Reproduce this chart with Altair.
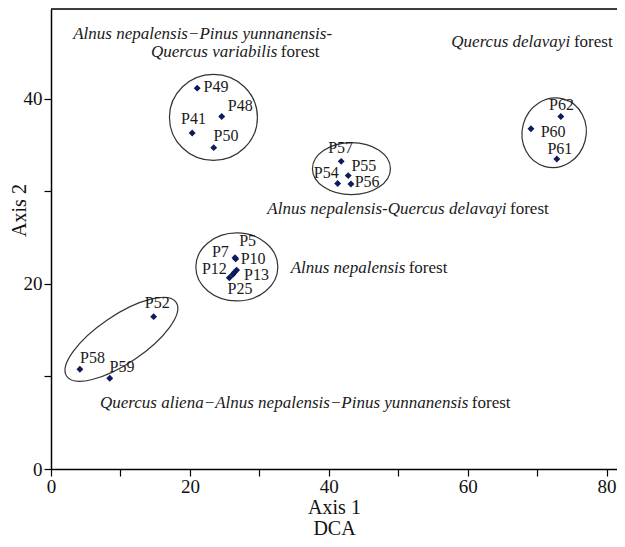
import altair as alt
import pandas as pd

# ---------------- data ----------------
plots = ["P49", "P48", "P41", "P50",
         "P57", "P55", "P54", "P56",
         "P62", "P60", "P61",
         "P7", "P5", "P10", "P13", "P12", "P25",
         "P52", "P58", "P59"]
axis1 = [21.05, 24.58, 20.33, 23.43,
         41.79, 42.80, 41.28, 43.19,
         73.41, 69.11, 72.84,
         26.50, 26.60, 26.73, 26.40, 26.18, 25.68,
         14.78, 4.16, 8.46]
axis2 = [41.15, 38.09, 36.30, 34.72,
         33.24, 31.70, 30.84, 30.80,
         38.09, 36.77, 33.50,
         22.83, 22.70, 21.49, 21.24, 21.02, 20.67,
         16.46, 10.78, 9.81]
# label anchor positions (axis units)
label_x = [23.77, 27.26, 20.52, 25.21,
           41.71, 45.05, 39.64, 45.52,
           73.50, 72.31, 73.27,
           24.39, 28.31, 29.10, 29.60, 23.53, 27.22,
           15.31, 5.98, 10.23]
label_y = [41.26, 39.22, 37.82, 35.94,
           34.68, 32.78, 31.99, 30.98,
           39.35, 36.41, 34.58,
           23.47, 24.60, 22.68, 20.98, 21.56, 19.45,
           17.90, 12.04, 11.07]

# community ellipses: centre (axis units), half-width px, aspect ratio, rotation
ell_cx = [23.39, 43.26, 72.45, 26.76, 10.14]
ell_cy = [37.99, 32.45, 36.33, 21.83, 14.01]
ell_rx = [44, 39, 32, 41, 66]
ell_ratio = [0.977, 0.667, 1.094, 0.829, 0.364]
ell_angle = [0, 0, 15, 0, 326]

# community names: italic part, regular part
italic_left_txt = ["Alnus nepalensis\u2212Pinus yunnanensis-"]
italic_left_x = [3.2]
italic_left_y = [47.0]

italic_right_txt = ["Quercus variabilis", "Quercus delavayi",
                    "Alnus nepalensis-Quercus delavayi", "Alnus nepalensis",
                    "Quercus aliena\u2212Alnus nepalensis\u2212Pinus yunnanensis"]
italic_right_x = [32.6, 74.75, 65.6, 51.03, 60.1]
group_y = [45.05, 46.15, 28.14, 21.75, 7.12]
regular_txt = ["forest", "forest", "forest", "forest", "forest"]
regular_x = [33.1, 75.3, 66.1, 51.5, 60.6]

x_ticks = [0, 10, 20, 30, 40, 50, 60, 70, 80]
y_ticks = [0, 10, 20, 30, 40]

# ---------------- chart ----------------
W, H = 566, 460
FONT = "Liberation Serif"
XMAX, YMAX = 81.5, 49.7

pts = pd.DataFrame({"plot": plots, "a1": axis1, "a2": axis2,
                    "lx": label_x, "ly": label_y})

k = 0.5523


def ellipse_path(r):
    return (f"M1,0C1,{k*r:.4f} {k:.4f},{r:.4f} 0,{r:.4f}"
            f"C{-k:.4f},{r:.4f} -1,{k*r:.4f} -1,0"
            f"C-1,{-k*r:.4f} {-k:.4f},{-r:.4f} 0,{-r:.4f}"
            f"C{k:.4f},{-r:.4f} 1,{-k*r:.4f} 1,0Z")


ell = pd.DataFrame({"cx": ell_cx, "cy": ell_cy,
                    "size": [(2 * r) ** 2 for r in ell_rx],
                    "path": [ellipse_path(r) for r in ell_ratio],
                    "ang": ell_angle})

xs = alt.Scale(domain=[0, XMAX], nice=False, zero=False)
ys = alt.Scale(domain=[0, YMAX], nice=False, zero=False)

x_axis = alt.Axis(values=x_ticks, labelExpr="datum.value % 20 == 0 ? datum.label : ''",
                  grid=False, tickSize=7, tickColor="black", domainColor="black",
                  domainWidth=1.5, tickWidth=1.2,
                  labelFont=FONT, labelFontSize=19, labelColor="#111", labelPadding=1,
                  labelFlush=False, labelOverlap=False,
                  title=["Axis 1", "DCA"], titleFont=FONT, titleFontSize=20,
                  titleFontWeight="normal", titleColor="#111", titleLineHeight=21,
                  titlePadding=1)
y_axis = alt.Axis(values=y_ticks, labelExpr="datum.value % 20 == 0 ? datum.label : ''",
                  grid=False, tickSize=7, tickColor="black", domainColor="black",
                  domainWidth=1.5, tickWidth=1.2,
                  labelFont=FONT, labelFontSize=19, labelColor="#111", labelPadding=2,
                  labelFlush=False, labelOverlap=False,
                  title="Axis 2", titleFont=FONT, titleFontSize=20,
                  titleFontWeight="normal", titleColor="#111",
                  titleX=-32, titleY=201, titleAngle=270,
                  titleAlign="center", titleBaseline="middle")

base = alt.Chart(pts)

points = base.mark_point(shape="diamond", filled=True, size=48, color="#0d1a5c",
                         opacity=1).encode(
    x=alt.X("a1:Q", scale=xs, axis=x_axis),
    y=alt.Y("a2:Q", scale=ys, axis=y_axis),
)

labels = base.mark_text(font=FONT, fontSize=16, color="#1a1a1a",
                        baseline="middle", align="center").encode(
    x=alt.X("lx:Q", scale=xs),
    y=alt.Y("ly:Q", scale=ys),
    text="plot:N",
)

ellipses = alt.Chart(ell).mark_point(filled=False, stroke="#333333",
                                     strokeWidth=1.2, opacity=1).encode(
    x=alt.X("cx:Q", scale=xs),
    y=alt.Y("cy:Q", scale=ys),
    size=alt.Size("size:Q", scale=None),
    shape=alt.Shape("path:N", scale=None),
    angle=alt.Angle("ang:Q", scale=None),
)

gl = pd.DataFrame({"t": italic_left_txt, "x": italic_left_x, "y": italic_left_y})
gr = pd.DataFrame({"t": italic_right_txt, "x": italic_right_x, "y": group_y})
gn = pd.DataFrame({"t": regular_txt, "x": regular_x, "y": group_y})

txt_style = dict(font=FONT, fontSize=17, color="#1a1a1a", baseline="middle")
g_left = alt.Chart(gl).mark_text(fontStyle="italic", align="left", **txt_style).encode(
    x=alt.X("x:Q", scale=xs), y=alt.Y("y:Q", scale=ys), text="t:N")
g_right = alt.Chart(gr).mark_text(fontStyle="italic", align="right", **txt_style).encode(
    x=alt.X("x:Q", scale=xs), y=alt.Y("y:Q", scale=ys), text="t:N")
g_norm = alt.Chart(gn).mark_text(align="left", **txt_style).encode(
    x=alt.X("x:Q", scale=xs), y=alt.Y("y:Q", scale=ys), text="t:N")

top_border = alt.Chart(pd.DataFrame({"v": [0]})).mark_rule(
    color="black", strokeWidth=1.5).encode(
    x=alt.value(0), x2=alt.value(W), y=alt.value(0))

chart = alt.layer(top_border, ellipses, points, labels, g_left, g_right, g_norm).properties(
    width=W, height=H,
    autosize=alt.AutoSizeParams(type="none"),
    padding={"left": 43, "top": 1, "right": 0, "bottom": 70},
).configure_view(stroke=None).configure(background="white")

chart.save("out.html", embed_options={"renderer": "svg", "actions": False})
